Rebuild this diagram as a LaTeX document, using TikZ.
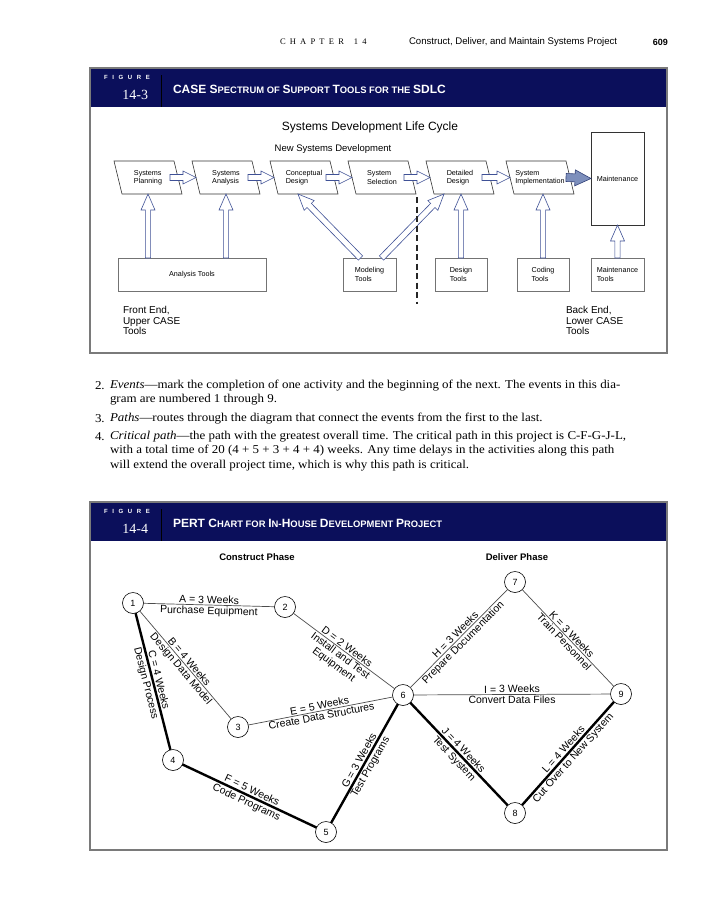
\documentclass[tikz,border=0pt]{standalone}
\usepackage{fontspec}
\setmainfont{Liberation Serif}
\setsansfont{Liberation Sans}
\newfontfamily\bodyfont[FakeStretch=1.08]{Liberation Serif}
\usetikzlibrary{calc}
\definecolor{navy}{HTML}{0B0F5B}
\definecolor{arrblue}{HTML}{3F5196}
\definecolor{arrfill}{HTML}{7D8FBC}
\definecolor{framegray}{HTML}{7A7A7A}
\newcommand\SC[2]{{\fontsize{12}{12}\selectfont #1}{\fontsize{9.4}{12}\selectfont #2}}
\newcommand\figword{F\kern4.6pt I\kern4.6pt G\kern4.6pt U\kern4.6pt R\kern4.6pt E}
\newcommand\blockarr[6]{%
  \coordinate (bah) at ($(#3)!#6!(#2)$);
  \draw[#1] ($(#2)!#4!90:(#3)$) -- ($(bah)!#4!90:(#3)$) -- ($(bah)!#5!90:(#3)$) -- (#3)
    -- ($(bah)!#5!-90:(#3)$) -- ($(bah)!#4!-90:(#3)$) -- ($(#2)!#4!-90:(#3)$) -- cycle;}
\begin{document}
\begin{tikzpicture}[x=1pt,y=-1pt,
  every node/.style={inner sep=0pt,outer sep=0pt},
  frm/.style={draw=framegray,line width=1.3pt},
  para/.style={minimum width=60pt,minimum height=33pt,align=left,font=\sffamily\fontsize{7.2}{8.2}\selectfont},
  paraline/.style={draw=black!80,line width=0.6pt},
  toolbox/.style={draw=black!55,line width=0.7pt,minimum height=33pt,align=left,font=\sffamily\fontsize{7.2}{8.2}\selectfont},
  hollow/.style={draw=arrblue,fill=white,line width=0.6pt},
  solidarr/.style={draw=arrblue!80!black,fill=arrfill,line width=0.6pt},
  evt/.style={circle,draw=black,fill=white,line width=0.6pt,minimum size=21pt,font=\sffamily\fontsize{9}{9}\selectfont},
  act/.style={draw=black!70,line width=0.7pt},
  crit/.style={draw=black,line width=2.4pt},
  lab/.style={sloped,midway,inner sep=1.5pt,align=center,font=\sffamily\fontsize{10.5}{11}\selectfont},
  clab/.style={lab,inner sep=2.6pt},
  bodytxt/.style={anchor=west,font=\bodyfont\fontsize{12}{14}\selectfont},
]
\fill[white] (0,0) rectangle (719,900);
\useasboundingbox (0,0) rectangle (719,900);

% page header
\node[anchor=west,font=\fontsize{8.5}{10}\selectfont] (chap) at (280,42)
  {C\kern4.2pt H\kern4.2pt A\kern4.2pt P\kern4.2pt T\kern4.2pt E\kern4.2pt R\kern10pt 1\kern4.2pt 4};
\node[anchor=west,font=\sffamily\fontsize{9.6}{10}\selectfont] (ptitle) at (409,42) {Construct, Deliver, and Maintain Systems Project};
\node[anchor=east,font=\sffamily\bfseries\fontsize{9}{10}\selectfont] (pnum) at (668,42) {609};

% ---------- Figure 14-3 ----------
\fill[navy] (90,68) rectangle (667,107);
\draw[frm] (90,68) rectangle (667,353);
\draw[black,line width=0.8pt] (161,75) -- (161,107);
\node[text=white,font=\sffamily\bfseries\fontsize{6}{6}\selectfont] (fg1) at (127,77) {\figword};
\node[text=white,anchor=east,font=\fontsize{14}{14}\selectfont] (num1) at (148,95) {14-3};
\node[text=white,anchor=west,font=\sffamily\bfseries] (tt1) at (173,89)
  {\SC{CASE S}{PECTRUM OF} \SC{S}{UPPORT} \SC{T}{OOLS FOR THE} \SC{SDLC}{}};

\node[font=\sffamily\fontsize{12}{12}\selectfont] (sdlc) at (370,127) {Systems Development Life Cycle};
\node[font=\sffamily\fontsize{9.5}{10}\selectfont] (nsd) at (333,149) {New Systems Development};

\node[para] (sp) at (148,177.5) {Systems\\Planning};
\node[para] (sa) at (226,177.5) {Systems\\Analysis};
\node[para] (cd) at (304,177.5) {Conceptual\\Design};
\node[para] (ss) at (382,177.5) {System\\Selection};
\node[para] (dd) at (460,177.5) {Detailed\\Design};
\node[para] (si) at (540,177.5) {System\\Implementation};
\foreach \p in {sp,sa,cd,ss,dd,si}
  \draw[paraline] ([xshift=-4pt]\p.north west) -- ([xshift=-4pt]\p.north east)
     -- ([xshift=4pt]\p.south east) -- ([xshift=4pt]\p.south west) -- cycle;
\node[draw=black!80,line width=0.7pt,minimum width=53pt,minimum height=93pt,font=\sffamily\fontsize{7.2}{8.2}\selectfont] (mn) at (617.5,178.5) {Maintenance};

\coordinate (h1) at ([xshift=-8pt]sp.east); \blockarr{hollow}{h1}{sa.west}{3pt}{6.5pt}{13pt}
\coordinate (h2) at ([xshift=-8pt]sa.east); \blockarr{hollow}{h2}{cd.west}{3pt}{6.5pt}{13pt}
\coordinate (h3) at ([xshift=-8pt]cd.east); \blockarr{hollow}{h3}{ss.west}{3pt}{6.5pt}{13pt}
\coordinate (h4) at ([xshift=-8pt]ss.east); \blockarr{hollow}{h4}{dd.west}{3pt}{6.5pt}{13pt}
\coordinate (h5) at ([xshift=-8pt]dd.east); \blockarr{hollow}{h5}{si.west}{3pt}{6.5pt}{13pt}
\coordinate (h6) at ([xshift=-4pt]si.east); \blockarr{solidarr}{h6}{mn.west}{4pt}{8pt}{16pt}

\node[toolbox,minimum width=148pt,align=center] (at) at (192,274.5) {Analysis Tools};
\node[toolbox,minimum width=53pt] (mod) at (369.5,274.5) {Modeling\\Tools};
\node[toolbox,minimum width=52pt] (des) at (461,274.5) {Design\\Tools};
\node[toolbox,minimum width=52pt] (cod) at (543,274.5) {Coding\\Tools};
\node[toolbox,minimum width=53pt] (mtl) at (617.5,274.5) {Maintenance\\Tools};

\coordinate (v1) at (sp.south |- at.north); \blockarr{hollow}{v1}{sp.south}{2.6pt}{7pt}{16pt}
\coordinate (v2) at (sa.south |- at.north); \blockarr{hollow}{v2}{sa.south}{2.6pt}{7pt}{16pt}
\coordinate (v3) at (des.north |- dd.south); \blockarr{hollow}{des.north}{v3}{2.6pt}{7pt}{16pt}
\coordinate (v4) at (cod.north |- si.south); \blockarr{hollow}{cod.north}{v4}{2.6pt}{7pt}{16pt}
\coordinate (v5) at (mtl.north |- mn.south); \blockarr{hollow}{mtl.north}{v5}{2.6pt}{7pt}{16pt}
\coordinate (d1s) at ([xshift=-9pt]mod.north); \coordinate (d1t) at ([xshift=-6pt]cd.south);
\blockarr{hollow}{d1s}{d1t}{3pt}{7pt}{16pt}
\coordinate (d2s) at ([xshift=12pt]mod.north); \coordinate (d2t) at ([xshift=-16pt]dd.south);
\blockarr{hollow}{d2s}{d2t}{3pt}{7pt}{16pt}

\coordinate (ds1) at (417,197); \coordinate (ds2) at (417,304);
\draw[black!85,line width=1.6pt,dash pattern=on 6pt off 3.5pt] (ds1) -- (ds2);

\node[anchor=north west,align=left,font=\sffamily\fontsize{10}{10.8}\selectfont] (fe) at (123,306) {Front End,\\Upper CASE\\Tools};
\node[anchor=north west,align=left,font=\sffamily\fontsize{10}{10.8}\selectfont] (be) at (566,306) {Back End,\\Lower CASE\\Tools};

% ---------- body text ----------
\node[bodytxt] (b2n) at (95,386) {2.};
\node[bodytxt] (b2) at (110,386) {\textit{Events}—mark the completion of one activity and the beginning of the next. The events in this dia-};
\node[bodytxt] (b2b) at (110,400) {gram are numbered 1 through 9.};
\node[bodytxt] (b3n) at (95,419) {3.};
\node[bodytxt] (b3) at (110,419) {\textit{Paths}—routes through the diagram that connect the events from the first to the last.};
\node[bodytxt] (b4n) at (95,437) {4.};
\node[bodytxt] (b4) at (110,437) {\textit{Critical path}—the path with the greatest overall time. The critical path in this project is C-F-G-J-L,};
\node[bodytxt] (b4b) at (110,451) {with a total time of 20 (4 + 5 + 3 + 4 + 4) weeks. Any time delays in the activities along this path};
\node[bodytxt] (b4c) at (110,466) {will extend the overall project time, which is why this path is critical.};

% ---------- Figure 14-4 ----------
\fill[navy] (90,502) rectangle (667,541);
\draw[frm] (90,502) rectangle (667,850);
\draw[black,line width=0.8pt] (161,509) -- (161,541);
\node[text=white,font=\sffamily\bfseries\fontsize{6}{6}\selectfont] (fg2) at (127,511) {\figword};
\node[text=white,anchor=east,font=\fontsize{14}{14}\selectfont] (num2) at (148,529) {14-4};
\node[text=white,anchor=west,font=\sffamily\bfseries] (tt2) at (173,523)
  {\SC{PERT C}{HART FOR} \SC{I}{N}-\SC{H}{OUSE} \SC{D}{EVELOPMENT} \SC{P}{ROJECT}};

\node[font=\sffamily\bfseries\fontsize{9.5}{10}\selectfont] (cph) at (257,557) {Construct Phase};
\node[font=\sffamily\bfseries\fontsize{9.5}{10}\selectfont] (dph) at (517,557) {Deliver Phase};

\node[evt] (n1) at (133,603) {1};
\node[evt] (n2) at (285,607) {2};
\node[evt] (n3) at (238,727) {3};
\node[evt] (n4) at (173,760) {4};
\node[evt] (n5) at (326,832) {5};
\node[evt] (n6) at (403,695) {6};
\node[evt] (n7) at (515,582) {7};
\node[evt] (n8) at (515,813) {8};
\node[evt] (n9) at (621,694) {9};

\draw[act] (n1) -- node[lab,above] {A = 3 Weeks} node[lab,below] {Purchase Equipment} (n2);
\draw[act] (n1) -- node[lab,above] {B = 4 Weeks} node[lab,below] {Design Data Model} (n3);
\draw[crit] (n1) -- node[clab,above] {C = 4 Weeks} node[clab,below] {Design Process} (n4);
\draw[act] (n2) -- node[lab,above] {D = 2 Weeks} node[lab,below] {Install and Test\\Equipment} (n6);
\draw[act] (n3) -- node[lab,above] {E = 5 Weeks} node[lab,below] {Create Data Structures} (n6);
\draw[crit] (n4) -- node[clab,above] {F = 5 Weeks} node[clab,below] {Code Programs} (n5);
\draw[crit] (n5) -- node[clab,above] {G = 3 Weeks} node[clab,below] {Test Programs} (n6);
\draw[act] (n6) -- node[lab,above] {H = 3 Weeks} node[lab,below] {Prepare Documentation} (n7);
\draw[act] (n6) -- node[lab,above] {I = 3 Weeks} node[lab,below] {Convert Data Files} (n9);
\draw[crit] (n6) -- node[clab,above] {J = 4 Weeks} node[clab,below] {Test System} (n8);
\draw[act] (n7) -- node[lab,above] {K = 3 Weeks} node[lab,below] {Train Personnel} (n9);
\draw[crit] (n8) -- node[clab,above] {L = 4 Weeks} node[clab,below] {Cut Over to New System} (n9);
\end{tikzpicture}
\end{document}
